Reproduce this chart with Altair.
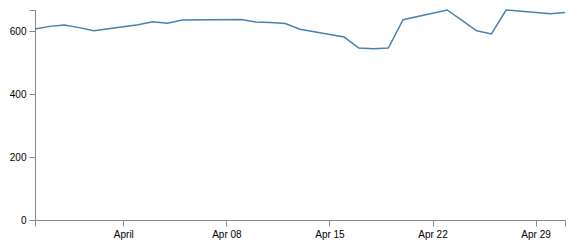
import altair as alt
import pandas as pd

dates = [
    "2012-03-26", "2012-03-27", "2012-03-28", "2012-03-29", "2012-03-30",
    "2012-04-02", "2012-04-03", "2012-04-04", "2012-04-05",
    "2012-04-09", "2012-04-10", "2012-04-11", "2012-04-12", "2012-04-13",
    "2012-04-16", "2012-04-17", "2012-04-18", "2012-04-19", "2012-04-20",
    "2012-04-23", "2012-04-24", "2012-04-25", "2012-04-26", "2012-04-27",
    "2012-04-30", "2012-05-01",
]
values = [
    607, 615, 619, 611, 601,
    620, 630, 625, 635,
    637, 629, 627, 624, 606,
    581, 546, 544, 546, 636,
    667, 634, 601, 591, 667,
    655, 659,
]
y_ticks = [0, 200, 400, 600, 667]

df = pd.DataFrame({"date": dates, "close": values})

def dt(m, d):
    return alt.DateTime(year=2012, month=m, date=d, utc=True)

x_ticks = [dt(3, 26), dt(4, 1), dt(4, 8), dt(4, 15), dt(4, 22), dt(4, 29), dt(5, 1)]

axis_common = dict(
    grid=False,
    domainColor="#888888",
    tickColor="#888888",
    tickSize=6,
    labelPadding=3,
    labelFont="Arial, Liberation Sans",
    labelFontSize=10,
    labelColor="#000000",
    labelOverlap=False,
    labelFlush=False,
    title=None,
)

chart = (
    alt.Chart(df)
    .mark_line(color="steelblue", strokeWidth=1.5)
    .encode(
        x=alt.X(
            "date:T",
            scale=alt.Scale(type="utc", domain=[dt(3, 26), dt(5, 1)]),
            axis=alt.Axis(
                values=x_ticks,
                labelExpr="utcmonth(datum.value) == 3 ? (utcdate(datum.value) == 1 ? 'April' : utcFormat(datum.value, '%b %d')) : ''",
                **axis_common,
            ),
        ),
        y=alt.Y(
            "close:Q",
            scale=alt.Scale(domain=[0, 667], nice=False, zero=True),
            axis=alt.Axis(
                values=y_ticks,
                labelExpr="datum.value > 650 ? '' : datum.label",
                **axis_common,
            ),
        ),
    )
    .properties(
        width=530,
        height=210,
        autosize=alt.AutoSizeParams(type="none"),
        padding={"left": 35, "top": 10, "right": 14, "bottom": 31},
        background="white",
    )
    .configure_view(stroke=None)
)

chart.save("out.html", embed_options={"renderer": "svg", "actions": False})
